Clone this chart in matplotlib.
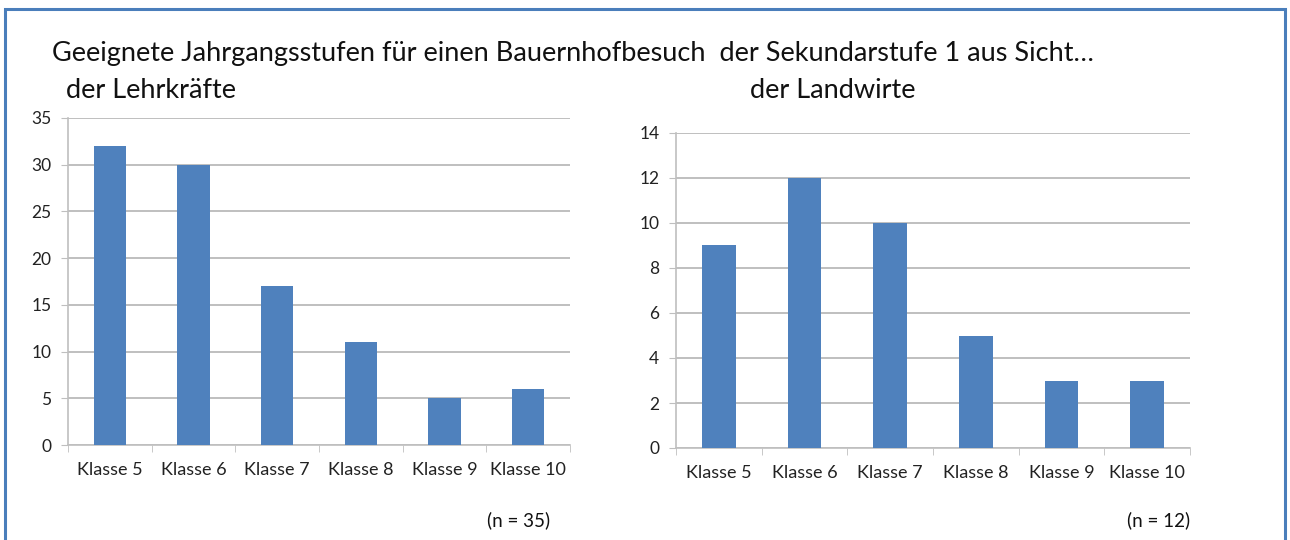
import matplotlib.pyplot as plt
from matplotlib.patches import Rectangle

plt.rcParams['font.family'] = ['Lato', 'DejaVu Sans']

# Daten
klassen = ["Klasse 5", "Klasse 6", "Klasse 7", "Klasse 8", "Klasse 9", "Klasse 10"]
lehrkraefte = [32, 30, 17, 11, 5, 6]
landwirte = [9, 12, 10, 5, 3, 3]

bar_color = "#4f81bd"
grid_color = "#bfbfbf"

fig = plt.figure(figsize=(12.9, 5.4), dpi=100)

# Rahmen
fig.patches.append(Rectangle((5 / 1290, -0.05), 1280 / 1290, 1 - 9 / 540 + 0.05,
                             transform=fig.transFigure, fill=False,
                             edgecolor="#4a7ebb", linewidth=2.2))

def draw_panel(rect, values, ymax, step):
    ax = fig.add_axes(rect)
    x = range(len(values))
    ax.bar(x, values, width=0.39, color=bar_color, zorder=3)
    ax.set_xlim(-0.5, len(values) - 0.5)
    ax.set_ylim(0, ymax)
    ax.set_yticks(range(0, ymax + 1, step))
    ax.set_xticks(list(x))
    ax.set_xticklabels(klassen)
    ax.set_xticks([i - 0.5 for i in range(len(values) + 1)], minor=True)
    ax.tick_params(axis='x', which='major', length=0, pad=12, labelsize=13, labelcolor="#222222")
    ax.tick_params(axis='x', which='minor', length=5, color=grid_color)
    ax.tick_params(axis='y', length=5, color=grid_color, labelsize=12.5, pad=7, labelcolor="#222222")
    ax.grid(axis='y', color=grid_color, linewidth=1.4, zorder=0)
    for s in ['top', 'right']:
        ax.spines[s].set_visible(False)
    for s in ['left', 'bottom']:
        ax.spines[s].set_color(grid_color)
        ax.spines[s].set_linewidth(1.2)
    return ax

draw_panel([68 / 1290, 1 - 445 / 540, 502 / 1290, 327 / 540], lehrkraefte, 35, 5)
draw_panel([676 / 1290, 1 - 448 / 540, 514 / 1290, 315 / 540], landwirte, 14, 2)

fig.text(550 / 1290, 1 - 520 / 540, "(n = 35)", ha='right', va='center',
         fontsize=13.5, color="#111111")
fig.text(1190 / 1290, 1 - 520 / 540, "(n = 12)", ha='right', va='center',
         fontsize=13.5, color="#111111")

fig.text(52 / 1290, 1 - 53 / 540,
         "Geeignete Jahrgangsstufen für einen Bauernhofbesuch  der Sekundarstufe 1 aus Sicht…",
         ha='left', va='center', fontsize=19.5, color="#111111")
fig.text(66 / 1290, 1 - 90 / 540, "der Lehrkräfte", ha='left', va='center', fontsize=19.5,
         color="#111111")
fig.text(750 / 1290, 1 - 90 / 540, "der Landwirte", ha='left', va='center', fontsize=19.5,
         color="#111111")

fig.savefig("out.png", dpi=100)
